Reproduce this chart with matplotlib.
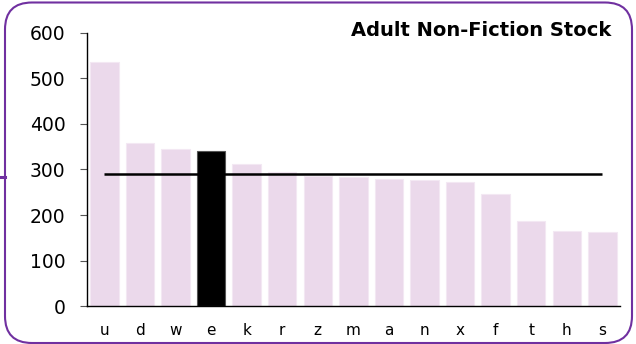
import matplotlib
matplotlib.use("Agg")
import matplotlib.pyplot as plt
from matplotlib.patches import FancyBboxPatch
from matplotlib.lines import Line2D

categories = ["u", "d", "w", "e", "k", "r", "z", "m", "a", "n", "x", "f", "t", "h", "s"]
stock = [535, 357, 346, 340, 313, 295, 286, 284, 279, 276, 273, 246, 187, 166, 164]
average = 290
highlight = "e"
title = "Adult Non-Fiction Stock"

fig = plt.figure(figsize=(6.36, 3.44), dpi=100)
ax = fig.add_axes([0.1363, 0.1096, 0.975 - 0.1363, 0.905 - 0.1096])

colors = ["#000000" if c == highlight else "#EBD9EB" for c in categories]
edges = ["#555555" if c == highlight else "#F3E8F3" for c in categories]
x = range(len(categories))
ax.bar(x, stock, width=0.8, color=colors, edgecolor=edges, linewidth=0.8, zorder=2)
ax.hlines(average, 0, len(categories) - 1, color="black", linewidth=1.8, zorder=3)

ax.set_xlim(-0.5, len(categories) - 0.5)
ax.set_ylim(0, 600)
ax.set_yticks([0, 100, 200, 300, 400, 500, 600])
ax.set_xticks(list(x))
ax.set_xticklabels(categories)

ax.spines["top"].set_visible(False)
ax.spines["right"].set_visible(False)
ax.spines["left"].set_linewidth(1.0)
ax.spines["bottom"].set_linewidth(1.0)
ax.tick_params(axis="y", length=5.3, width=0.8, color="#555555", pad=10, labelsize=13.5)
ax.tick_params(axis="x", length=0, pad=12, labelsize=11)

fig.text(611 / 636, 1 - 31 / 344, title, ha="right", va="center",
         fontsize=14, fontweight="bold")

# rounded purple frame around the chart
frame = FancyBboxPatch((0.05, 0.01), 6.27, 3.405,
                       boxstyle="round,pad=0,rounding_size=0.27",
                       transform=fig.dpi_scale_trans, facecolor="none",
                       edgecolor="#7030A0", linewidth=1.5, zorder=10)
fig.patches.append(frame)
fig.lines.append(Line2D([0, 0.05], [1.67, 1.67], transform=fig.dpi_scale_trans,
                        color="#7030A0", linewidth=2.2))

fig.savefig("out.png", dpi=100)
